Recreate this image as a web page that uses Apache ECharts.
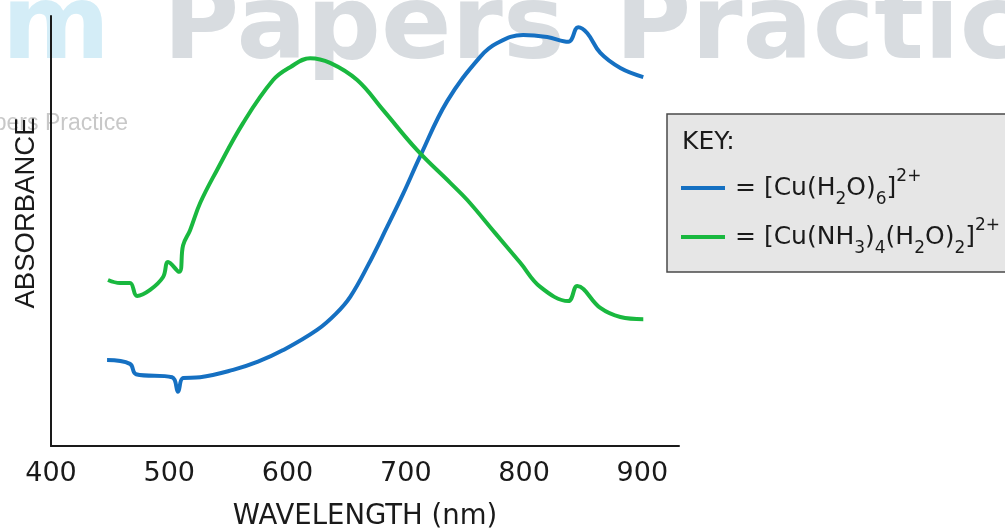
<!DOCTYPE html>
<html><head><meta charset="utf-8">
<script src="https://cdn.jsdelivr.net/npm/echarts@6/dist/echarts.min.js"></script>
<style>html,body{margin:0;padding:0;background:#fff}#c{width:1005px;height:529px}</style>
</head><body><div id="c"></div>
<script>
// Tick labels on the wavelength axis (nm)
const xTickLabels = [400, 500, 600, 700, 800, 900];

// [Cu(H2O)6]2+  (blue)
const hexWavelength = [447.4, 466.8, 471.9, 502.4, 507.4, 511.7, 526.1, 554.0, 575.0, 596.3, 625.0, 641.0, 653.0, 668.0, 684.3, 698.0, 712.2, 735.0, 762.9, 777.3, 799.3, 819.6, 837.4, 845.8, 853.5, 864.5, 881.4, 900.8];
const hexAbsorbance = [20.0, 19.1, 16.7, 16.0, 12.6, 15.8, 16.0, 17.7, 19.6, 22.3, 27.0, 30.8, 34.7, 42.0, 51.0, 58.8, 67.4, 80.2, 90.5, 93.7, 95.6, 95.1, 94.0, 97.4, 96.0, 91.4, 87.9, 85.8];

// [Cu(NH3)4(H2O)2]2+  (green)
const ammWavelength = [448.2, 458.4, 466.8, 472.8, 483.8, 494.8, 499.0, 508.3, 511.7, 517.6, 526.1, 540.4, 562.4, 587.8, 602.2, 619.1, 636.0, 658.9, 680.9, 709.6, 737.6, 752.0, 775.6, 796.8, 813.7, 837.4, 845.0, 864.5, 881.4, 900.8];
const ammAbsorbance = [38.6, 37.9, 37.9, 34.9, 36.3, 39.3, 42.8, 40.5, 46.7, 50.2, 56.5, 64.2, 75.1, 85.1, 88.1, 90.2, 89.1, 85.1, 78.1, 68.8, 61.2, 57.2, 49.5, 42.6, 37.0, 33.7, 37.2, 32.1, 30.0, 29.5];

const seriesNames = ['hex', 'amm'];
const legendLabels = {
  hex: '{g|}{n|= [Cu(H}{s|2}{n|O)}{s|6}{n|]}{p|2+}',
  amm: '{g|}{n|= [Cu(NH}{s|3}{n|)}{s|4}{n|(H}{s|2}{n|O)}{s|2}{n|]}{p|2+}'
};

const zip = (xs, ys) => xs.map((x, i) => [x, ys[i]]);

const chart = echarts.init(document.getElementById('c'), null, {renderer: 'canvas'});
const baseFont = 'DejaVu Sans';
chart.setOption({
  animation: false,
  backgroundColor: '#ffffff',
  grid: {left: 51, right: 326, top: 16, bottom: 83, containLabel: false, outerBoundsMode: 'none'},
  xAxis: {
    type: 'value', min: 400, max: 931, interval: 100,
    name: 'WAVELENGTH (nm)', nameLocation: 'middle', nameGap: 57,
    nameTextStyle: {fontFamily: baseFont, fontSize: 27.5, color: '#1a1a1a'},
    axisLine: {show: true, lineStyle: {color: '#1a1a1a', width: 2}},
    axisTick: {show: false},
    splitLine: {show: false},
    axisLabel: {
      margin: 14, fontFamily: baseFont, fontSize: 27, color: '#1a1a1a',
      formatter: v => xTickLabels.includes(v) ? String(v) : ''
    }
  },
  yAxis: {
    type: 'value', min: 0, max: 100,
    axisLine: {show: true, lineStyle: {color: '#1a1a1a', width: 2}},
    axisTick: {show: false}, axisLabel: {show: false}, splitLine: {show: false}
  },
  legend: {
    orient: 'vertical', left: 681, top: 168, padding: 0, itemGap: 9,
    itemWidth: 44, itemHeight: 4, icon: 'rect',
    data: seriesNames,
    formatter: name => legendLabels[name],
    textStyle: {
      fontFamily: baseFont, color: '#1a1a1a',
      rich: {
        g: {width: 5},
        n: {fontFamily: baseFont, fontSize: 25, lineHeight: 40, verticalAlign: 'middle', color: '#1a1a1a'},
        s: {fontFamily: baseFont, fontSize: 17, lineHeight: 18, verticalAlign: 'bottom', color: '#1a1a1a'},
        p: {fontFamily: baseFont, fontSize: 17, lineHeight: 14, verticalAlign: 'top', color: '#1a1a1a'}
      }
    }
  },
  graphic: [
    {type: 'text', x: 110, y: 31, z: -5, silent: true,
     style: {text: 'm', font: 'bold 104px "DejaVu Sans"', fill: '#d4edf7', align: 'right', verticalAlign: 'middle'}},
    {type: 'text', x: 163, y: 31, z: -5, silent: true,
     style: {text: 'Papers', font: 'bold 104px "DejaVu Sans"', fill: '#d8dce0', align: 'left', verticalAlign: 'middle'}},
    {type: 'text', x: 615, y: 31, z: -5, silent: true,
     style: {text: 'Practice', font: 'bold 104px "DejaVu Sans"', fill: '#d8dce0', align: 'left', verticalAlign: 'middle'}},
    {type: 'text', x: 128, y: 124, z: -5, silent: true,
     style: {text: 'Papers Practice', font: '23px "Liberation Sans"', fill: '#c8c8c8', align: 'right', verticalAlign: 'middle'}},
    {type: 'text', x: 26, y: 213, rotation: Math.PI / 2, silent: true,
     style: {text: 'ABSORBANCE', font: '27.5px "Liberation Sans"', fill: '#1a1a1a', align: 'center', verticalAlign: 'middle'}},
    {type: 'rect', silent: true, z: 1,
     shape: {x: 667, y: 114, width: 400, height: 158},
     style: {fill: '#e6e6e6', stroke: '#4a4a4a', lineWidth: 1.5}},
    {type: 'text', x: 682, y: 142, z: 2, silent: true,
     style: {text: 'KEY:', font: '25px "DejaVu Sans"', fill: '#1a1a1a', align: 'left', verticalAlign: 'middle'}}
  ],
  series: [
    {name: 'hex', type: 'line', data: zip(hexWavelength, hexAbsorbance), showSymbol: false, symbol: 'none',
     smooth: 0.4, color: '#1570c2', lineStyle: {width: 4, color: '#1570c2'}, z: 3},
    {name: 'amm', type: 'line', data: zip(ammWavelength, ammAbsorbance), showSymbol: false, symbol: 'none',
     smooth: 0.4, color: '#19b83f', lineStyle: {width: 4, color: '#19b83f'}, z: 3}
  ]
});
</script>
</body></html>
